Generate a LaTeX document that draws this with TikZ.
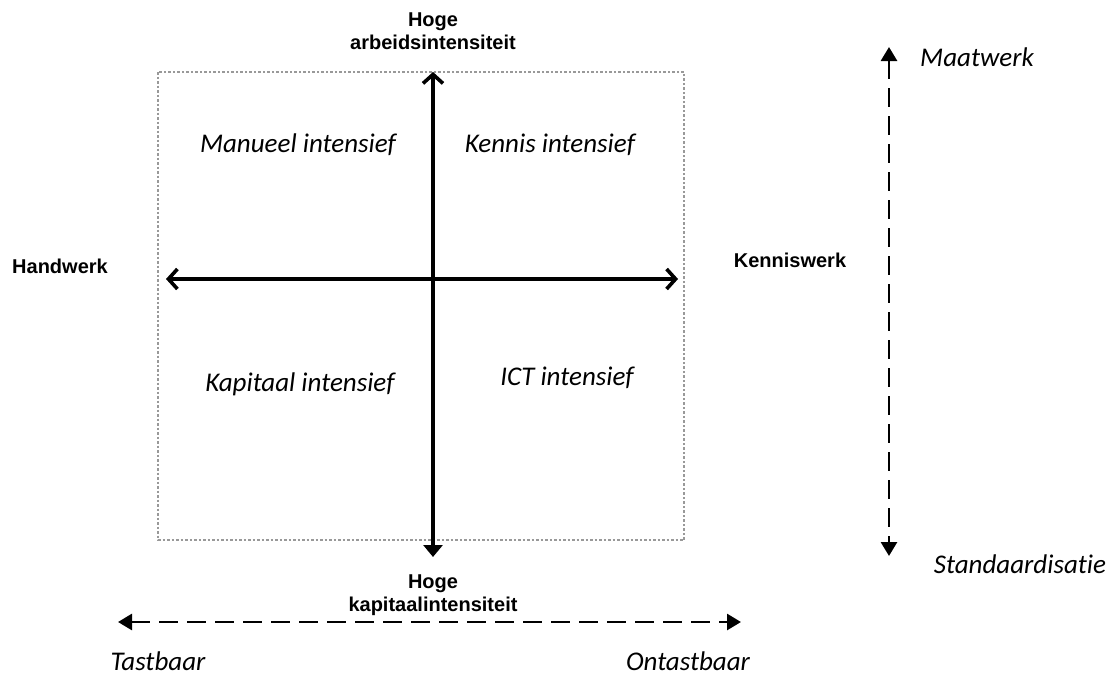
\documentclass[tikz,border=0pt]{standalone}
\usepackage{fontspec}
\setmainfont[Ligatures=NoCommon]{Carlito}
\newfontfamily\headfont{Liberation Sans}
\usetikzlibrary{arrows.meta}

\begin{document}
\begin{tikzpicture}[
  x=1pt, y=-1pt,
  frame/.style={draw=gray!80, line width=1.1pt, dash pattern=on 2.5pt off 2pt},
  axis/.style={line width=3.6pt},
  trend/.style={line width=2.8pt, dash pattern=on 19pt off 9pt},
  pole/.style={font=\headfont\bfseries\fontsize{20}{23}\selectfont, align=center},
  quad/.style={font=\itshape\fontsize{27}{32}\selectfont, anchor=base}
]

\useasboundingbox (0,0) rectangle (1112,680);

% ------------------------------------------------------------
% Quadrant frame and cross
% ------------------------------------------------------------
\draw[frame] (158,72) rectangle (684,540);

\coordinate (top)    at (433,72);
\coordinate (bottom) at (433,557);
\coordinate (left)   at (166,279);
\coordinate (right)  at (678,279);

\draw[axis, {Straight Barb[length=9pt,width=20pt]}-{Triangle[length=12pt,width=19pt]}]
  (top) -- (bottom);
\draw[axis, {Straight Barb[length=9pt,width=20pt]}-{Straight Barb[length=9pt,width=20pt]}]
  (left) -- (right);

% Pole labels
\node[pole] (arbeid)   at (433,31)  {Hoge\\arbeidsintensiteit};
\node[pole] (kapitaal) at (433,595) {Hoge\\kapitaalintensiteit};
\node[pole, anchor=base] (hand)   at (60,273)  {Handwerk};
\node[pole, anchor=base] (kennis) at (790,267) {Kenniswerk};

% Quadrant labels
\node[quad] (manueel)   at (298,152) {Manueel intensief};
\node[quad] (kennisq)   at (550,152) {Kennis intensief};
\node[quad] (kapitaalq) at (300,391) {Kapitaal intensief};
\node[quad] (ict)       at (567,385) {ICT intensief};

% ------------------------------------------------------------
% Side scales
% ------------------------------------------------------------
\coordinate (maat)  at (889,47);
\coordinate (stand) at (889,556);
\draw[trend, {Triangle[length=14pt,width=16pt]}-{Triangle[length=14pt,width=16pt]}]
  (maat) -- (stand);

\node[quad] (maatwerk)  at (977,66)  {Maatwerk};
\node[quad] (standaard) at (1020,573) {Standaardisatie};

\coordinate (tast)   at (118,622);
\coordinate (ontast) at (741,622);
\draw[trend, {Triangle[length=14pt,width=16pt]}-{Triangle[length=14pt,width=16pt]}]
  (tast) -- (ontast);

\node[quad] (tastbaar)   at (158,670) {Tastbaar};
\node[quad] (ontastbaar) at (688,670) {Ontastbaar};

\end{tikzpicture}
\end{document}
